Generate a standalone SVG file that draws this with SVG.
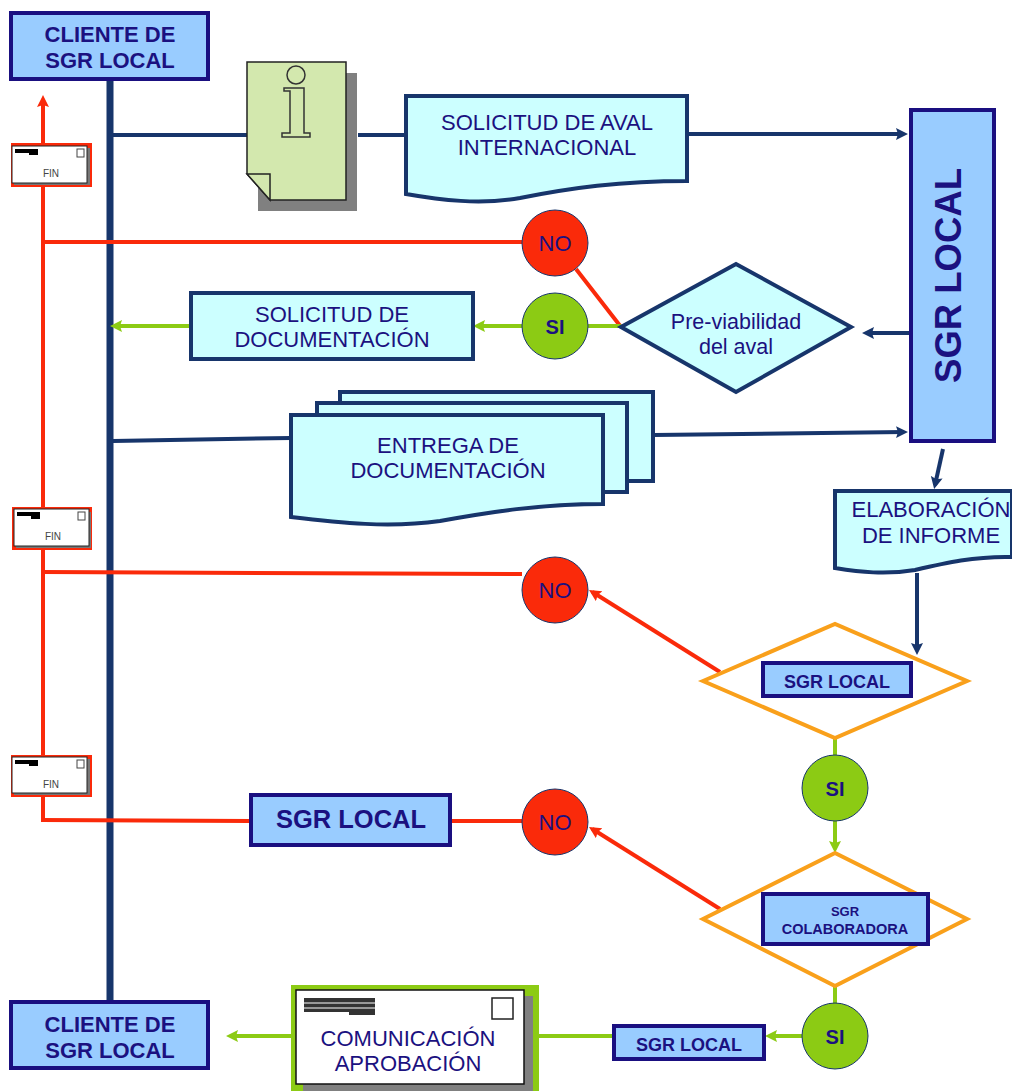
<svg xmlns="http://www.w3.org/2000/svg" width="1012" height="1091" viewBox="0 0 1012 1091">
<style>
text{font-family:"Liberation Sans",Arial,sans-serif;fill:#1b1180;text-anchor:middle}
.b{font-weight:bold}
.nv{fill:none;stroke:#17356b;stroke-width:4}
.rd{fill:none;stroke:#fa2a0a;stroke-width:4}
.gr{fill:none;stroke:#8ccb14;stroke-width:4}
.sgr{fill:#99ccff;stroke:#1a0f80;stroke-width:4}
.doc{fill:#ccffff;stroke:#17356b;stroke-width:4}
.dia{fill:#fff;stroke:#f9a01b;stroke-width:4}
.no{fill:#fa2a0a;stroke:#17356b;stroke-width:1}
.si{fill:#8ccb14;stroke:#17356b;stroke-width:1}
.fin{fill:#444;font-size:10px}
</style>
<defs>
<marker id="an" markerUnits="userSpaceOnUse" markerWidth="14" markerHeight="14" refX="8" refY="6" orient="auto"><path d="M0 0L12 6L0 12L2 6Z" fill="#17356b"/></marker>
<marker id="ar" markerUnits="userSpaceOnUse" markerWidth="14" markerHeight="14" refX="8" refY="6" orient="auto"><path d="M0 0L12 6L0 12L2 6Z" fill="#fa2a0a"/></marker>
<marker id="ag" markerUnits="userSpaceOnUse" markerWidth="14" markerHeight="14" refX="8" refY="6" orient="auto"><path d="M0 0L12 6L0 12L2 6Z" fill="#8ccb14"/></marker>
</defs>
<rect width="1012" height="1091" fill="#fff"/>
<g id="connectors">
<path d="M110 80V1001" fill="none" stroke="#17356b" stroke-width="7"/>
<path class="nv" d="M113 135H247M358 135H406"/>
<path class="nv" d="M687 134H904" marker-end="url(#an)"/>
<path class="nv" d="M910 333H866" marker-end="url(#an)"/>
<path class="nv" d="M113 441L291 438"/>
<path class="nv" d="M654 435L904 432" marker-end="url(#an)"/>
<path class="nv" d="M943 449L935 485" marker-end="url(#an)"/>
<path class="nv" d="M917 573V651" marker-end="url(#an)"/>
<path class="rd" d="M43 820V99" marker-end="url(#ar)"/>
<path class="rd" d="M43 242H522M576 269L621 327"/>
<path class="rd" d="M43 572L522 574"/>
<path class="rd" d="M41 820L250 821M451 821H522"/>
<path class="rd" d="M720 672L592.400 592" marker-end="url(#ar)"/>
<path class="rd" d="M720 909L592.400 829" marker-end="url(#ar)"/>
<path class="gr" d="M621 326H588"/>
<path class="gr" d="M522 326H477" marker-end="url(#ag)"/>
<path class="gr" d="M191 326H114" marker-end="url(#ag)"/>
<path class="gr" d="M835 738V755"/>
<path class="gr" d="M835 821V849" marker-end="url(#ag)"/>
<path class="gr" d="M835 986V1004"/>
<path class="gr" d="M802 1036H769" marker-end="url(#ag)"/>
<path class="gr" d="M613 1036H538"/>
<path class="gr" d="M292 1036H230" marker-end="url(#ag)"/>
</g>
<g id="cliente-top"><rect class="sgr" x="11" y="13" width="197" height="66"/><text class="b" x="110" y="42" font-size="22">CLIENTE DE</text><text class="b" x="110" y="68" font-size="22">SGR LOCAL</text></g>
<g id="fin-1"><rect x="11" y="143" width="81" height="44" fill="#fa2a0a"/><rect x="14" y="148" width="76" height="37" fill="#777"/><rect x="12" y="146" width="75" height="37" fill="#fff" stroke="#222" stroke-width="1"/><path d="M15 149H38V155H29V153H15Z" fill="#000"/><rect x="77" y="149" width="7" height="8" fill="#fff" stroke="#444"/><text class="fin" x="51" y="177">FIN</text></g>
<g id="info-doc"><rect x="258" y="73" width="99" height="138" fill="#808080"/><path d="M247 62H346V200H270L247 174Z" fill="#d3e8ae" stroke="#222" stroke-width="1.5"/><path d="M247 174H270V200Z" fill="#d3e8ae" stroke="#222" stroke-width="1.5"/><circle cx="296" cy="75" r="9" fill="none" stroke="#333" stroke-width="1.5"/><path d="M284 88H304V133H310V137H282V133H290V91H284Z" fill="none" stroke="#333" stroke-width="1.5"/></g>
<g id="solicitud-aval"><path class="doc" d="M406 96H687V181C620 181 570 188 520 198C480 205 440 200 406 194Z"/><text x="547" y="130" font-size="22">SOLICITUD DE AVAL</text><text x="547" y="155" font-size="22">INTERNACIONAL</text></g>
<g id="sgr-local-v"><rect class="sgr" x="911" y="110" width="83" height="331"/><text class="b" transform="translate(961 275.500) rotate(-90)" font-size="36.500">SGR LOCAL</text></g>
<g id="no-1"><circle class="no" cx="555" cy="243" r="33"/><text x="555" y="251" font-size="22">NO</text></g>
<g id="si-1"><circle class="si" cx="555" cy="326" r="33"/><text class="b" x="555" y="334" font-size="20">SI</text></g>
<g id="previabilidad"><path d="M621 327L736 264L851 327L736 392Z" fill="#ccffff" stroke="#17356b" stroke-width="4"/><text x="736" y="329" font-size="21.500">Pre-viabilidad</text><text x="736" y="354" font-size="21.500">del aval</text></g>
<g id="solicitud-doc"><rect class="doc" x="191" y="293" width="282" height="66"/><text x="332" y="322" font-size="22">SOLICITUD DE</text><text x="332" y="347" font-size="22">DOCUMENTACIÓN</text></g>
<g id="entrega"><path class="doc" d="M340 392H653V481H340Z"/><path class="doc" d="M317 403H627V492H317Z"/><path class="doc" d="M291 415H603V504C540 504 490 512 440 521C390 528 340 523 291 517Z"/><text x="448" y="453" font-size="22">ENTREGA DE</text><text x="448" y="478" font-size="22">DOCUMENTACIÓN</text></g>
<g id="fin-2"><rect x="12" y="507" width="80" height="43" fill="#fa2a0a"/><rect x="16" y="512" width="75" height="36" fill="#777"/><rect x="14" y="509" width="75" height="37" fill="#fff" stroke="#222" stroke-width="1"/><path d="M17 512H40V519H31V516H17Z" fill="#000"/><rect x="78" y="512" width="7" height="8" fill="#fff" stroke="#444"/><text class="fin" x="53" y="540">FIN</text></g>
<g id="informe"><path class="doc" d="M835 491H1012V557C975 556 945 563 915 570C885 575 860 572 835 568Z"/><text x="931" y="517" font-size="22">ELABORACIÓN</text><text x="931" y="543" font-size="22">DE INFORME</text></g>
<g id="no-2"><circle class="no" cx="555" cy="590" r="33"/><text x="555" y="598" font-size="22">NO</text></g>
<g id="dec-local"><path class="dia" d="M703 681L835 624L967 681L835 738Z"/><rect class="sgr" x="763" y="663" width="148" height="33"/><text class="b" x="837" y="688" font-size="18">SGR LOCAL</text></g>
<g id="si-2"><circle class="si" cx="835" cy="788" r="33"/><text class="b" x="835" y="796" font-size="20">SI</text></g>
<g id="fin-3"><rect x="11" y="755" width="81" height="42" fill="#fa2a0a"/><rect x="14" y="759" width="76" height="36" fill="#777"/><rect x="12" y="757" width="75" height="36" fill="#fff" stroke="#222" stroke-width="1"/><path d="M15 760H38V766H29V764H15Z" fill="#000"/><rect x="77" y="760" width="7" height="8" fill="#fff" stroke="#444"/><text class="fin" x="51" y="788">FIN</text></g>
<g id="sgr-local-h"><rect class="sgr" x="251" y="795" width="199" height="50"/><text class="b" x="351" y="828" font-size="25.500">SGR LOCAL</text></g>
<g id="no-3"><circle class="no" cx="555" cy="822" r="33"/><text x="555" y="830" font-size="22">NO</text></g>
<g id="dec-colab"><path class="dia" d="M703 919L835 853L967 919L835 986Z"/><rect class="sgr" x="763" y="894" width="165" height="50"/><text class="b" x="845" y="916" font-size="13">SGR</text><text class="b" x="845" y="934" font-size="14.500">COLABORADORA</text></g>
<g id="si-3"><circle class="si" cx="835" cy="1036" r="33"/><text class="b" x="835" y="1044" font-size="20">SI</text></g>
<g id="cliente-bottom"><rect class="sgr" x="11" y="1002" width="197" height="66"/><text class="b" x="110" y="1032" font-size="22">CLIENTE DE</text><text class="b" x="110" y="1058" font-size="22">SGR LOCAL</text></g>
<g id="comunicacion"><rect x="291" y="985" width="248" height="106" fill="#8ccb14"/><rect x="303" y="996" width="230" height="95" fill="#808080"/><rect x="296" y="990" width="228" height="94" fill="#fff" stroke="#111" stroke-width="1.500"/><path d="M304 998H375V1015H349V1012H304Z" fill="#333"/><path d="M304 1003H375M304 1008H375" stroke="#fff" stroke-width="1"/><rect x="492" y="998" width="21" height="21" fill="#fff" stroke="#222" stroke-width="1.500"/><text x="408" y="1046" font-size="22">COMUNICACIÓN</text><text x="408" y="1071" font-size="22">APROBACIÓN</text></g>
<g id="sgr-local-small"><rect class="sgr" x="614" y="1026" width="150" height="33"/><text class="b" x="689" y="1051" font-size="18">SGR LOCAL</text></g>
</svg>
